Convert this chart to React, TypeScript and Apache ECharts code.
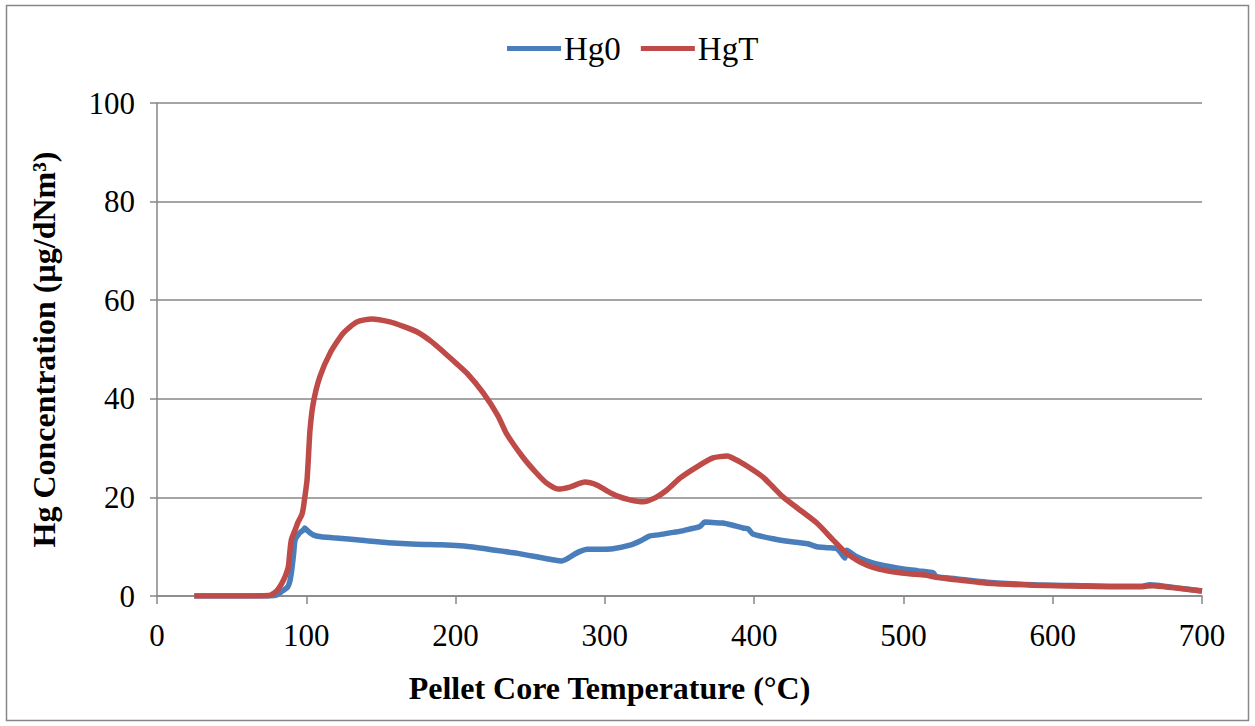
import React, { useEffect, useRef } from "react";
import * as echarts from "echarts";

const legendNames = ["Hg0", "HgT"];
const xTicks = [0, 100, 200, 300, 400, 500, 600, 700];
const yTicks = [0, 20, 40, 60, 80, 100];

const hg0: [number, number][] = [
  [25, 0], [50, 0], [75, 0], [80, 0.2], [82, 0.6], [85, 1.2], [87.5, 1.8], [89, 3], [90, 4.7],
  [91.5, 8.5], [92.5, 11.4], [95, 12.6], [98, 13.4], [99, 13.8], [101, 13.2], [104.6, 12.4],
  [110, 12], [118, 11.8], [130, 11.5], [140.6, 11.2], [155, 10.8], [174, 10.5], [190, 10.4],
  [203, 10.2], [215, 9.8], [228.5, 9.2], [241, 8.7], [258.6, 7.7], [266, 7.3], [271, 7.1],
  [275, 7.6], [278.7, 8.3], [283, 9], [288, 9.5], [296, 9.5], [305.4, 9.6], [316.8, 10.3],
  [324, 11.2], [330.2, 12.2], [336, 12.4], [343.6, 12.8], [350, 13.1], [357, 13.6], [363.7, 14.1],
  [367, 15], [372, 14.9], [379, 14.8], [385, 14.4], [392.5, 13.8], [396, 13.6], [399, 12.6],
  [405, 12.1], [412.6, 11.6], [420, 11.2], [430.7, 10.8], [436, 10.6], [442, 10], [450, 9.8],
  [455.5, 9.6], [458, 8.8], [460.8, 7.7], [462, 9.3], [468, 8.1], [475.6, 7.1], [485, 6.3],
  [497.7, 5.6], [510, 5.1], [520, 4.7], [522, 3.9], [535, 3.5], [556, 2.8], [587, 2.3],
  [620, 2.1], [640, 2.0], [660, 2.0], [665, 2.3], [672, 2.1], [685, 1.6], [700, 1.0]
];

const hgT: [number, number][] = [
  [25, 0], [50, 0], [75, 0.1], [80, 1], [82.5, 2], [84.7, 3.2], [86.5, 4.5], [88, 6],
  [89, 9], [90, 11.4], [92.5, 13.4], [94.5, 15], [97, 16.5], [98, 17.8], [99, 20],
  [100.5, 23.5], [101.5, 28.5], [102.5, 33.7], [104.6, 39], [109, 44.4], [116, 49.3],
  [124.7, 53.3], [134, 55.6], [144, 56.2], [156, 55.6], [165, 54.7], [174, 53.6],
  [183, 51.8], [192, 49.5], [200, 47.3], [207.6, 45.2], [218.5, 41.2], [228.5, 36.5],
  [234, 33], [245, 28.2], [254, 25], [261, 22.9], [268.6, 21.7], [276.6, 22.1],
  [286.7, 23.1], [294.7, 22.5], [301, 21.4], [308, 20.3], [316.8, 19.5], [325.6, 19.1],
  [333.6, 19.9], [341.6, 21.5], [350.3, 23.9], [361.7, 26.2], [372.4, 28], [381.8, 28.4],
  [390.5, 27.2], [398, 25.8], [406, 24.1], [412, 22.3], [419.3, 20.1], [428.7, 17.9],
  [442, 14.8], [452.8, 11.4], [459.5, 9.3], [465, 8], [471, 6.9], [479.6, 5.8],
  [489, 5.1], [497.7, 4.7], [508, 4.4], [515.8, 4.2], [520, 3.9], [535, 3.3], [556, 2.6],
  [587, 2.2], [620, 2.0], [640, 1.9], [660, 1.9], [667, 2.1], [680, 1.7], [700, 1.0]
];

const FONT = "'Liberation Serif', 'Times New Roman', serif";
const GRID_GRAY = "#878787";

export default function App() {
  const ref = useRef<HTMLDivElement>(null);
  useEffect(() => {
    if (!ref.current) return;
    const chart = echarts.init(ref.current, null, { renderer: "svg" });
    chart.setOption({
      animation: false,
      backgroundColor: "#ffffff",
      textStyle: { fontFamily: FONT },
      graphic: [
        {
          type: "rect",
          shape: { x: 6.5, y: 5.5, width: 1242, height: 715 },
          style: { fill: "none", stroke: GRID_GRAY, lineWidth: 1.5 },
          silent: true,
        },
      ],
      legend: {
        data: legendNames,
        top: 27,
        left: 502,
        icon: "rect",
        itemWidth: 54,
        itemHeight: 5,
        itemGap: 20,
        textStyle: { fontFamily: FONT, fontSize: 33, color: "#000", padding: [0, 0, 0, -2] },
      },
      grid: { left: 157, right: 53, top: 103, bottom: 130, containLabel: false },
      xAxis: {
        type: "value",
        min: xTicks[0],
        max: xTicks[xTicks.length - 1],
        interval: 100,
        name: "Pellet Core Temperature (°C)",
        nameLocation: "middle",
        nameGap: 76,
        nameTextStyle: {
          fontFamily: FONT, fontSize: 32, fontWeight: "bold", color: "#000",
          padding: [0, 140, 0, 0],
        },
        axisLine: { show: true, onZero: false, lineStyle: { color: GRID_GRAY, width: 1.5 } },
        axisTick: { show: true, length: 8, lineStyle: { color: GRID_GRAY, width: 1.5 } },
        axisLabel: { fontFamily: FONT, fontSize: 31, color: "#000", margin: 24 },
        splitLine: { show: false },
      },
      yAxis: {
        type: "value",
        min: yTicks[0],
        max: yTicks[yTicks.length - 1],
        interval: 20,
        name: "Hg Concentration (µg/dNm³)",
        nameLocation: "middle",
        nameRotate: 90,
        nameGap: 97,
        nameTextStyle: { fontFamily: FONT, fontSize: 32, fontWeight: "bold", color: "#000" },
        axisLine: { show: true, lineStyle: { color: GRID_GRAY, width: 1.5 } },
        axisTick: { show: true, length: 7, lineStyle: { color: GRID_GRAY, width: 1.5 } },
        axisLabel: { fontFamily: FONT, fontSize: 31, color: "#000", margin: 22 },
        splitLine: { show: true, lineStyle: { color: GRID_GRAY, width: 1.5 } },
      },
      series: [
        {
          name: legendNames[0],
          type: "line",
          data: hg0,
          showSymbol: false,
          smooth: 0.2,
          color: "#4a7ebb",
          lineStyle: { width: 5.5, color: "#4a7ebb" },
          z: 2,
        },
        {
          name: legendNames[1],
          type: "line",
          data: hgT,
          showSymbol: false,
          smooth: 0.2,
          color: "#be4b48",
          lineStyle: { width: 5.5, color: "#be4b48" },
          z: 3,
        },
      ],
    });
    return () => chart.dispose();
  }, []);
  return (
    <div
      ref={ref}
      style={{ position: "fixed", left: 0, top: 0, width: 1255, height: 726, background: "#fff" }}
    />
  );
}
